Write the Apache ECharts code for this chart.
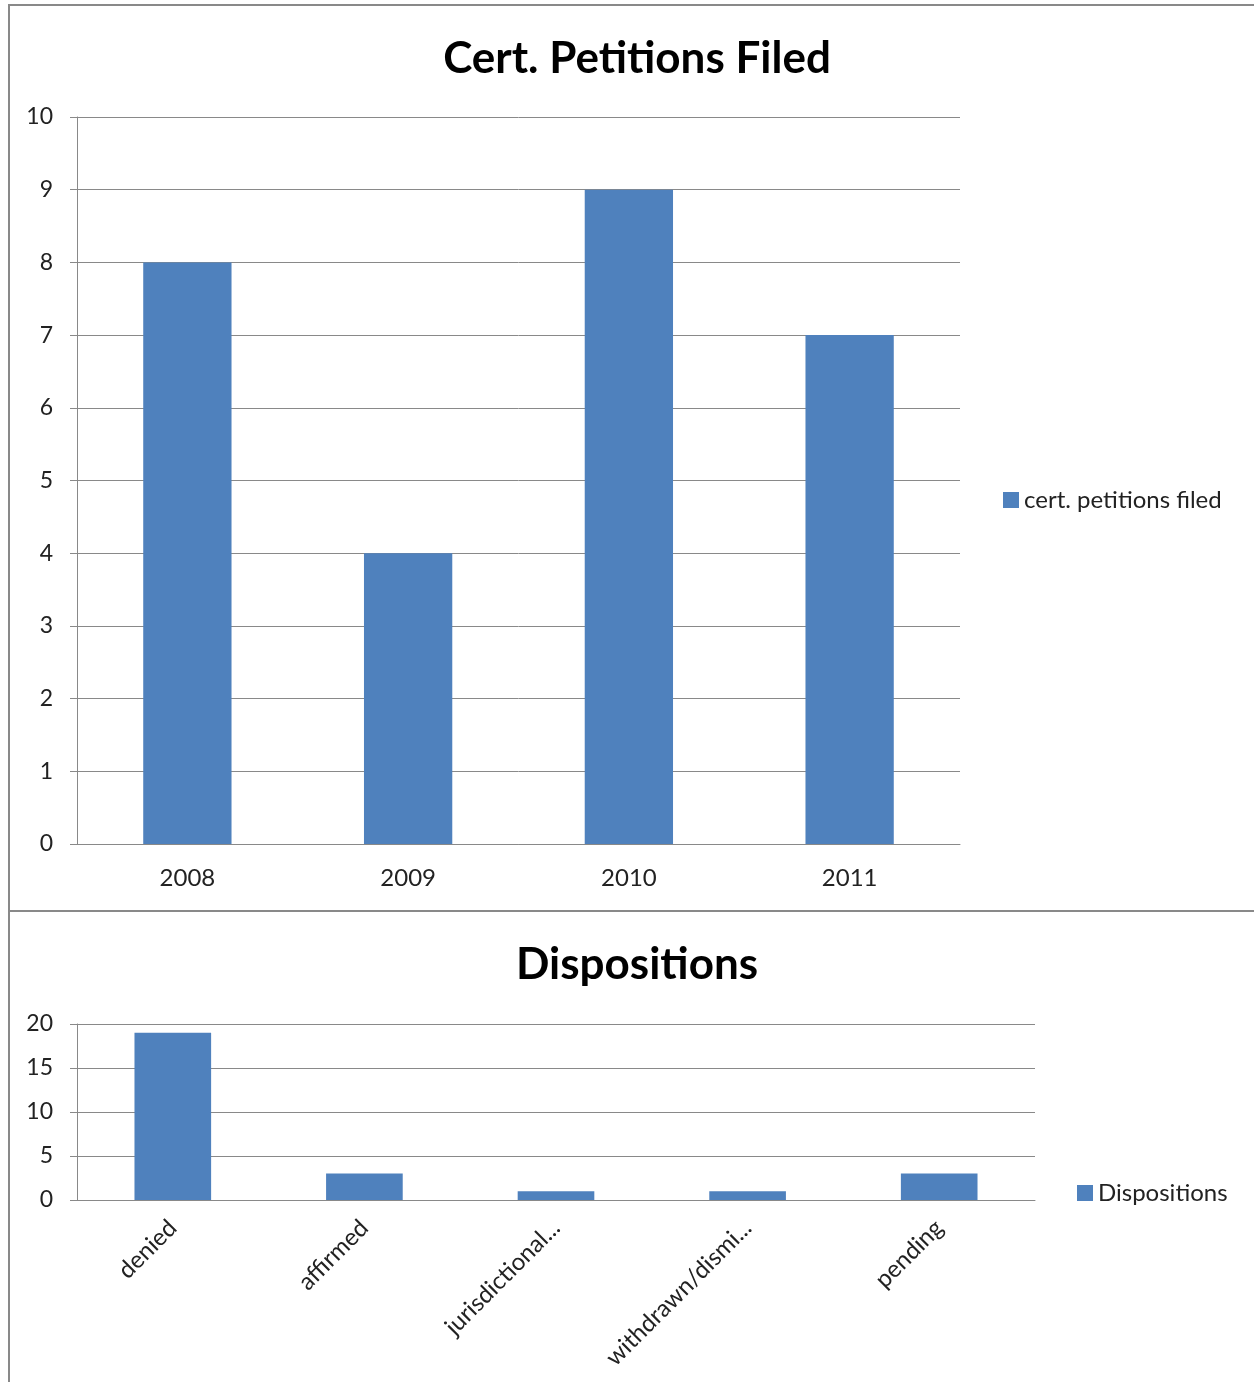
<!DOCTYPE html>
<html><head><meta charset="utf-8">
<script src="https://cdn.jsdelivr.net/npm/echarts@6/dist/echarts.min.js"></script>
<style>html,body{margin:0;padding:0;background:#fff;}#c{width:1254px;height:1382px;}</style>
</head><body><div id="c"></div>
<script>
const years = ['2008', '2009', '2010', '2011'];
const petitions = [8, 4, 9, 7];
const dispCategories = ['denied', 'affirmed', 'jurisdictional...', 'withdrawn/dismi...', 'pending'];
const dispositions = [19, 3, 1, 1, 3];

const FONT = 'Lato';
const gray = '#898989';
const blue = '#4F81BD';
const chart = echarts.init(document.getElementById('c'));
chart.setOption({
  animation: false,
  textStyle: { fontFamily: FONT },
  title: [
    { text: 'Cert. Petitions Filed', left: 632, textAlign: 'center', top: 32,
      textStyle: { fontFamily: FONT, fontSize: 44, fontWeight: 'bold', color: '#000' } },
    { text: 'Dispositions', left: 632, textAlign: 'center', top: 938,
      textStyle: { fontFamily: FONT, fontSize: 44, fontWeight: 'bold', color: '#000' } }
  ],
  legend: [
    { data: ['cert. petitions filed'], left: 1003, top: 488, padding: 0, icon: 'rect', itemWidth: 16, itemHeight: 16, itemGap: 5,
      textStyle: { fontFamily: FONT, fontSize: 24, color: '#222' } },
    { data: ['Dispositions'], left: 1077, top: 1181, padding: 0, icon: 'rect', itemWidth: 16, itemHeight: 16, itemGap: 5,
      textStyle: { fontFamily: FONT, fontSize: 24, color: '#222' } }
  ],
  grid: [
    { left: 77, width: 883, top: 117, height: 727 },
    { left: 77, width: 958, top: 1024, height: 176 }
  ],
  xAxis: [
    { type: 'category', gridIndex: 0, data: years,
      axisLine: { lineStyle: { color: gray, width: 1 } },
      axisTick: { length: 6, lineStyle: { color: gray } },
      axisLabel: { fontFamily: FONT, fontSize: 24, color: '#222', margin: 22 } },
    { type: 'category', gridIndex: 1, data: dispCategories,
      axisLine: { lineStyle: { color: gray, width: 1 } },
      axisTick: { length: 6, lineStyle: { color: gray } },
      axisLabel: { fontFamily: FONT, fontSize: 24, color: '#222', rotate: 45, margin: 24, interval: 0 } }
  ],
  yAxis: [
    { type: 'value', gridIndex: 0, min: 0, max: 10, interval: 1,
      axisLine: { show: true, lineStyle: { color: gray } },
      axisTick: { show: true, length: 7, lineStyle: { color: gray } },
      splitLine: { lineStyle: { color: gray } },
      axisLabel: { fontFamily: FONT, fontSize: 23, color: '#222', margin: 24 } },
    { type: 'value', gridIndex: 1, min: 0, max: 20, interval: 5,
      axisLine: { show: true, lineStyle: { color: gray } },
      axisTick: { show: true, length: 7, lineStyle: { color: gray } },
      splitLine: { lineStyle: { color: gray } },
      axisLabel: { fontFamily: FONT, fontSize: 23, color: '#222', margin: 24 } }
  ],
  series: [
    { name: 'cert. petitions filed', type: 'bar', xAxisIndex: 0, yAxisIndex: 0, data: petitions,
      barWidth: '40%', itemStyle: { color: blue } },
    { name: 'Dispositions', type: 'bar', xAxisIndex: 1, yAxisIndex: 1, data: dispositions,
      barWidth: '40%', itemStyle: { color: blue } }
  ],
  graphic: [
    { type: 'line', shape: { x1: 8, y1: 5, x2: 1254, y2: 5 }, style: { stroke: gray, lineWidth: 2 } },
    { type: 'line', shape: { x1: 9, y1: 5, x2: 9, y2: 1382 }, style: { stroke: gray, lineWidth: 2 } },
    { type: 'line', shape: { x1: 8, y1: 911, x2: 1254, y2: 911 }, style: { stroke: gray, lineWidth: 2 } }
  ]
});
</script></body></html>
